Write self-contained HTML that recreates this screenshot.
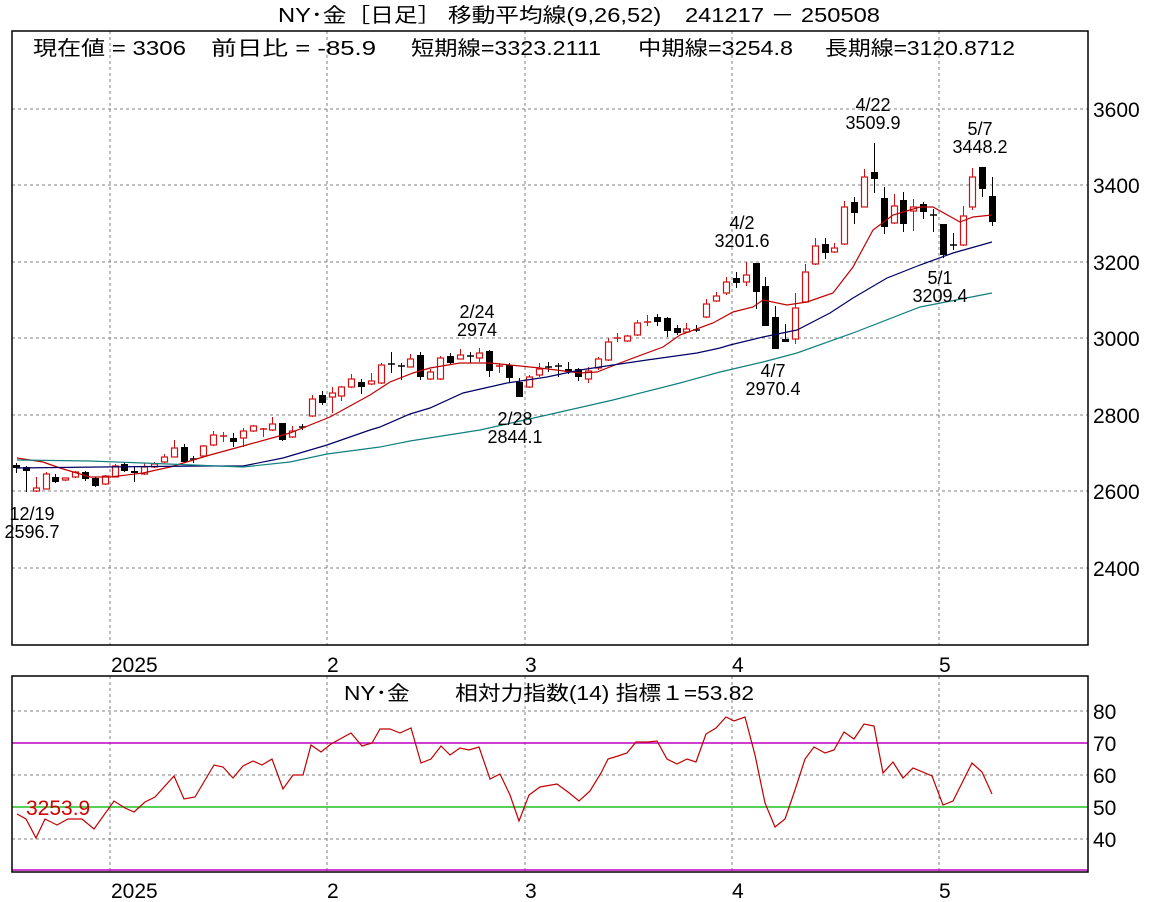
<!DOCTYPE html>
<html><head><meta charset="utf-8"><style>
html,body{margin:0;padding:0;background:#fff;}
svg{display:block;font-family:"Liberation Sans","Noto Sans CJK JP",sans-serif;}
</style></head><body>
<svg id="s" width="1171" height="902" viewBox="0 0 1171 902" xmlns="http://www.w3.org/2000/svg">
<rect width="1171" height="902" fill="#fff"/>
<g stroke="#808080" stroke-width="1" stroke-dasharray="3,3" fill="none">
<path d="M12 109H1088M12 185H1088M12 262H1088M12 338H1088M12 415H1088M12 491H1088M12 568H1088"/>
<path d="M110 31V645M327 31V645M525 31V645M732 31V645M939 31V645"/>
<path d="M12 711H1088M12 775H1088M12 839H1088"/>
<path d="M110 676V872M327 676V872M525 676V872M732 676V872M939 676V872"/>
</g>
<path d="M12 743H1088M12 870H1088" stroke="#c000c0" stroke-width="1.5"/>
<path d="M12 807H1088" stroke="#20c020" stroke-width="1.5"/>
<g id="candles"></g>
<polyline fill="none" stroke="#c00000" stroke-width="1.2" points="17,458 43,462 60,468 90,477 110,477 143,473 170,467 210,455 243,446 290,433 330,417 370,395 390,382 413,373 430,368 460,363 490,363 520,366 540,368 580,373 597,372 620,363 663,347 680,335 713,323 733,312 753,307 763,300 787,305 807,302 833,293 853,267 873,230 893,215 920,207 933,207 960,222 973,217 992,215"/>
<polyline fill="none" stroke="#000066" stroke-width="1.2" points="17,468 100,467 200,466 243,466 283,458 327,445 370,430 380,427 410,414 430,408 463,393 507,383 547,377 580,370 613,365 647,360 697,353 720,348 730,345 763,337 797,330 830,313 853,298 887,278 920,265 953,253 992,242"/>
<polyline fill="none" stroke="#108080" stroke-width="1.2" points="17,460 90,461 143,463 243,467 290,462 327,454 380,447 410,441 480,430 547,415 613,400 680,383 720,372 763,362 797,353 853,333 920,307 992,293"/>
<polyline fill="none" stroke="#c00000" stroke-width="1.2" points="17,814 26,819 36,838 45,819 57,825 68,819 82,819 94,829 114,801 125,808 134,812 145,802 155,797 174,776 184,799 195,797 214,765 223,767 233,778 243,766 253,761 262,765 272,759 283,789 293,775 303,775 311,745 321,752 331,744 351,733 362,746 372,743 380,729 390,729 400,733 411,728 421,763 431,759 441,746 450,755 460,748 469,750 479,747 490,779 500,774 510,795 519,821 529,795 540,787 557,784 568,792 579,801 590,791 601,773 608,759 618,756 627,753 636,742 648,742 657,741 667,759 677,764 687,759 696,762 706,734 716,728 726,717 734,721 745,717 755,755 765,803 775,827 785,819 795,790 805,759 814,747 825,753 834,750 844,732 854,739 864,724 874,726 883,773 893,762 903,778 913,768 932,776 943,805 953,801 972,763 982,772 992,794"/>
<rect x="12" y="31" width="1076" height="614" fill="none" stroke="#000" stroke-width="1.5"/>
<rect x="12" y="676" width="1076" height="196" fill="none" stroke="#000" stroke-width="1.5"/>
<g font-size="20" fill="#000">
<text x="278" y="22" textLength="602" lengthAdjust="spacingAndGlyphs">NY･金［日足］ 移動平均線(9,26,52)　241217 － 250508</text>
<text x="33" y="55" textLength="153" lengthAdjust="spacingAndGlyphs">現在値 = 3306</text>
<text x="211" y="55" textLength="165" lengthAdjust="spacingAndGlyphs">前日比 = -85.9</text>
<text x="411" y="55" textLength="190" lengthAdjust="spacingAndGlyphs">短期線=3323.2111</text>
<text x="638" y="55" textLength="155" lengthAdjust="spacingAndGlyphs">中期線=3254.8</text>
<text x="825" y="55" textLength="190" lengthAdjust="spacingAndGlyphs">長期線=3120.8712</text>
<text x="344" y="700" textLength="410" lengthAdjust="spacingAndGlyphs">NY･金　　相対力指数(14) 指標１=53.82</text>
</g>
<g font-size="21" fill="#000">
<text x="1093" y="117">3600</text><text x="1093" y="193">3400</text><text x="1093" y="270">3200</text>
<text x="1093" y="346">3000</text><text x="1093" y="423">2800</text><text x="1093" y="499">2600</text><text x="1093" y="576">2400</text>
<text x="1093" y="719">80</text><text x="1093" y="751">70</text><text x="1093" y="783">60</text><text x="1093" y="815">50</text><text x="1093" y="847">40</text>
<text x="111" y="672">2025</text><text x="327" y="672">2</text><text x="525" y="672">3</text><text x="732" y="672">4</text><text x="939" y="672">5</text>
<text x="111" y="898">2025</text><text x="327" y="898">2</text><text x="525" y="898">3</text><text x="732" y="898">4</text><text x="939" y="898">5</text>
</g>
<g font-size="18" fill="#000" text-anchor="middle">
<text x="32" y="520">12/19</text><text x="32" y="538">2596.7</text>
<text x="477" y="318">2/24</text><text x="477" y="336">2974</text>
<text x="515" y="425">2/28</text><text x="515" y="443">2844.1</text>
<text x="742" y="229">4/2</text><text x="742" y="247">3201.6</text>
<text x="773" y="377">4/7</text><text x="773" y="395">2970.4</text>
<text x="873" y="111">4/22</text><text x="873" y="129">3509.9</text>
<text x="980" y="135">5/7</text><text x="980" y="153">3448.2</text>
<text x="940" y="284">5/1</text><text x="940" y="302">3209.4</text>
</g>
<text x="26" y="815" font-size="21" fill="#d00000">3253.9</text>
</svg>
<script>
var d=[
["b",465,468,463,473],["b",467,471,466,492],["r",488,491,477,492],["r",474,489,472,489],["b",477,482,474,483],
["r",478,480,478,481],["r",472,477,471,478],["b",472,479,471,481],["b",478,486,477,487],["r",476,484,475,485],
["r",466,477,464,477],["b",464,471,462,472],["b",471,473,467,482],["r",467,474,463,475],["r",464,467,462,468],
["r",457,462,454,463],["r",448,457,440,457],["b",447,462,444,463],["c",459,460,456,463],["r",446,456,445,457],
["r",435,445,431,446],["rc",436,436,432,442],["b",438,442,433,447],["r",431,438,428,447],["r",426,431,425,432],
["rc",429,429,428,437],["r",424,430,417,431],["b",423,440,423,441],["r",431,437,426,438],["c",427,427,424,430],
["r",399,416,395,417],["b",395,403,391,405],["r",393,397,387,413],["r",387,396,386,401],["r",379,387,374,388],
["b",382,387,379,394],["r",381,384,373,385],["r",365,383,363,384],["c",364,364,352,373],["c",366,366,363,380],
["r",359,367,354,367],["b",355,377,352,380],["r",372,379,369,380],["r",358,379,356,380],["b",356,363,353,364],
["r",355,359,349,359],["c",356,356,352,363],["r",353,358,348,362],["b",351,371,350,377],["rc",366,366,363,373],
["b",365,378,363,383],["b",382,397,378,397],["r",377,387,375,388],["r",369,375,363,377],["c",367,367,362,372],
["c",366,366,363,377],["b",369,372,362,374],["b",369,377,368,381],["r",371,379,367,383],["r",359,368,357,370],
["r",342,360,338,361],["rc",338,338,333,342],["r",336,341,335,342],["r",323,335,320,336],["rc",322,322,315,326],
["b",317,322,314,326],["b",318,331,317,337],["b",328,333,325,335],["r",329,332,323,333],["c",330,330,325,332],
["r",304,317,299,318],["r",296,301,292,302],["r",282,293,277,295],["b",278,283,272,288],["r",275,282,262,286],
["b",263,292,263,309],["b",286,326,277,326],["b",317,349,306,349],["b",339,342,324,342],["r",308,339,293,344],
["r",272,302,264,303],["r",246,264,238,265],["b",244,253,238,259],["r",248,252,243,253],["r",207,244,201,245],
["b",202,213,197,224],["r",177,207,169,207],["b",172,179,143,193],["b",198,227,187,234],["r",206,223,194,224],
["b",200,224,192,232],["r",207,211,199,231],["b",204,212,202,219],["c",215,215,209,232],["b",224,255,224,258],
["c",245,245,233,250],["r",216,245,206,246],["r",177,207,168,210],["b",167,189,167,197],["b",196,222,177,226]];
var ns="http://www.w3.org/2000/svg",g=document.getElementById("candles");
function el(n,a){var e=document.createElementNS(ns,n);for(var k in a)e.setAttribute(k,a[k]);g.appendChild(e);}
d.forEach(function(c,i){
 var x=Math.round(16+9.86*i)+0.5,t=c[0],col=(t[0]=="r")?"#d01010":"#000";
 el("line",{x1:x,x2:x,y1:c[3],y2:c[4],stroke:col,"stroke-width":1});
 if(t=="c"||t=="rc"){el("line",{x1:x-3.5,x2:x+3.5,y1:c[1],y2:c[1],stroke:col,"stroke-width":1.5});}
 else if(t=="b"){el("rect",{x:x-3.5,y:c[1],width:7,height:Math.max(1,c[2]-c[1]),fill:"#000"});}
 else{el("rect",{x:x-3,y:c[1],width:6,height:Math.max(1,c[2]-c[1]),fill:"#fff",stroke:col,"stroke-width":1.2});}
});
</script>
</body></html>
